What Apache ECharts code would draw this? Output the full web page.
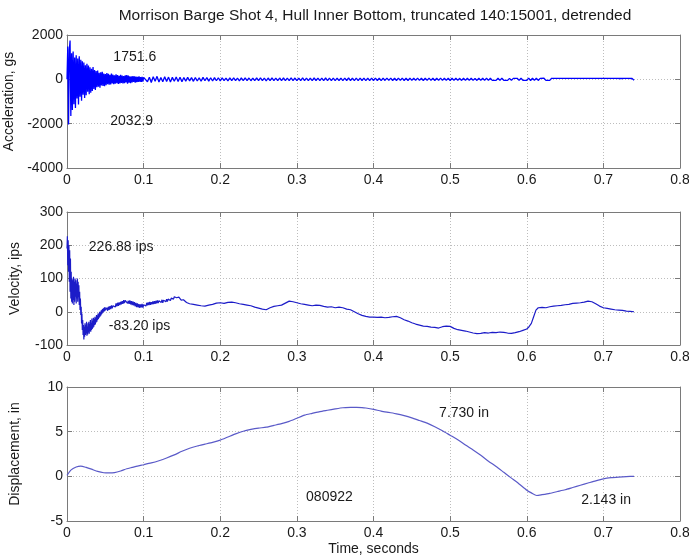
<!DOCTYPE html>
<html>
<head>
<meta charset="utf-8">
<script src="https://cdn.jsdelivr.net/npm/echarts@6/dist/echarts.min.js"></script>
<style>
  html, body { margin: 0; padding: 0; background: #fff; }
  #chart { width: 689px; height: 558px; }
</style>
</head>
<body>
<div id="chart"></div>
<script>
// ---- Acceleration (gs), sampled records ----
// first 0.1 s at 1 ms steps
const ACC_EARLY_T0 = 0;
const ACC_EARLY_DT = 0.001;
const accelEarly = [
  0, 1480, -2032.9, 1320, 1751.6, -1650, 1180, -1380, 1260, -1120,
  980, -1290, 1090, -860, 940, -1140, 1040, -780, 880, -960,
  820, -700, 760, -840, 640, -720, 700, -560, 620, -670,
  540, -600, 480, -520, 560, -440, 420, -480, 380, -360,
  400, -330, 300, -380, 320, -280, 340, -300, 260, -310,
  240, -260, 280, -220, 250, -240, 200, -230, 260, -190,
  210, -220, 180, -200, 230, -170, 190, -210, 160, -180,
  200, -160, 170, -190, 150, -170, 180, -140, 190, -200,
  170, -150, 140, -170, 130, -140, 150, -120, 130, -150,
  120, -130, 110, -120, 140, -110, 100, -120, 110, -100,
  90
];
// remainder of the record at 2.5 ms steps
const ACC_LATE_T0 = 0.1025;
const ACC_LATE_DT = 0.0025;
const accelLate = [
  130, -110, 95, -140, 120, -90, 135, -120, 85, -105, 115, -95, 100, -120, 90, -85, 105, -100, 95, -110,
  85, -80, 95, -70, 75, -90, 80, -75, 70, -85, 90, -65, 75, -80, 70, -75, 80, -65, 72, -70,
  68, -62, 58, -70, 64, -56, 70, -60, 55, -66, 62, -58, 66, -54, 60, -64, 56, -60, 66, -58,
  62, -58, 54, -66, 60, -54, 65, -58, 56, -62, 60, -54, 65, -60, 54, -58, 62, -56, 60, -62,
  56, -60, 62, -54, 58, -62, 54, -60, 60, -52, 58, -56, 54, -60, 62, -54, 56, -60, 54, -57,
  58, -54, 52, -60, 56, -52, 60, -54, 54, -58, 52, -55, 57, -52, 54, -56, 51, -54, 56, -52,
  54, -52, 50, -56, 53, -51, 55, -49, 52, -54, 50, -52, 54, -50, 51, -53, 49, -51, 53, -49,
  51, -49, 53, -50, 48, -52, 50, -48, 52, -49, 47, -51, 50, -48, 52, -47, 49, -50, 48, -51,
  49, -47, 51, -48, 46, -50, 49, -46, 50, -48, 47, -49, 46, -50, 48, -45, 49, -47, 46, -48,
  48, -46, 44, -49, 47, -45, 48, -44, 46, -47, 45, -48, 44, -46, 47, -45, 48, -44, 46, -47,
  54, -52, 50, -48, 47, -50, 46, -44, 48, -46, 43, -45, 46, -42, 44, -45, 42, -44, 45, -43,
  43, -42, 44, -41, 42, -43, 40, -44, 42, -41, 43, -40, 42, -43, 41, -42, 40, -41, 42, -40,
  41, -40, 39, -41, 40, -38, 41, -39, 38, -40, 39, -38, 40, -37, 38, -37
];

// ---- Velocity (ips) ----
// impact phase, 0 to 0.05 s at 0.5 ms steps
const VEL_EARLY_T0 = 0;
const VEL_EARLY_DT = 0.0005;
const velEarly = [
  190, 226.88, 140, 215, 120, 200, 90, 185, 60, 160,
  40, 120, 30, 100, 25, 95, 35, 105, 20, 90,
  30, 100, 45, 95, 25, 85, 40, 100, 30, 90,
  45, 80, 20, 60, 5, 40, -10, 15, -35, -5,
  -55, -25, -70, -40, -83.20, -45, -75, -35, -70, -40,
  -65, -30, -72, -45, -68, -35, -62, -30, -66, -38,
  -58, -25, -60, -35, -55, -20, -52, -28, -48, -18,
  -45, -22, -40, -15, -38, -20, -32, -10, -30, -12,
  -25, -5, -22, -8, -18, 0, -15, -2, -12, 4,
  -8, 6, -5, 8, -2, 10, 0, 12, 2, 14,
  5
];
// recovery, 0.051 to 0.150 s at 1 ms steps
const VEL_MID_T0 = 0.051;
const VEL_MID_DT = 0.001;
const velMid = [
  0, 12, 3, 15, 6, 17, 8, 19, 10, 18,
  12, 22, 14, 25, 16, 27, 18, 28, 20, 30,
  22, 32, 24, 35, 26, 34, 28, 37, 25, 33,
  24, 34, 22, 32, 20, 31, 19, 29, 16, 27,
  14, 25, 13, 23, 12, 22, 13, 24, 12, 21,
  16, 26, 17, 27, 19, 28, 20, 30, 21, 29,
  22, 31, 23, 32, 24, 33, 25, 34, 26, 33,
  27, 35, 28, 36, 27, 35, 29, 37, 30, 38,
  31, 38, 32, 40, 34, 41, 36, 43, 38, 45,
  40, 47, 42, 46, 41, 44, 38, 41, 35, 37
];
// remainder: [time s, value]
const velLate = [
  [0.152, 36], [0.156, 28],
  [0.160, 24], [0.165, 22], [0.170, 20], [0.175, 18], [0.180, 17], [0.185, 20],
  [0.190, 22], [0.195, 26], [0.200, 27], [0.205, 25], [0.210, 28], [0.215, 29],
  [0.220, 27], [0.225, 24], [0.230, 22], [0.235, 20], [0.240, 18], [0.245, 14],
  [0.250, 11], [0.255, 8], [0.260, 6], [0.265, 12], [0.270, 16], [0.275, 18],
  [0.280, 20], [0.285, 26], [0.290, 32], [0.295, 30], [0.300, 27], [0.305, 24],
  [0.310, 22], [0.315, 20], [0.320, 18], [0.325, 20], [0.330, 19], [0.335, 16],
  [0.340, 14], [0.345, 15], [0.350, 12], [0.355, 14], [0.360, 12], [0.365, 8],
  [0.370, 6], [0.375, 0], [0.380, -6], [0.385, -11], [0.390, -14], [0.395, -16],
  [0.400, -16], [0.405, -17], [0.410, -16], [0.415, -18], [0.420, -17], [0.425, -15],
  [0.430, -14], [0.435, -18], [0.440, -24], [0.445, -28], [0.450, -33], [0.455, -37],
  [0.460, -40], [0.465, -43], [0.470, -44], [0.475, -46], [0.480, -47], [0.485, -49],
  [0.490, -45], [0.495, -43], [0.500, -44], [0.505, -50], [0.510, -54], [0.515, -56],
  [0.520, -58], [0.525, -61], [0.530, -64], [0.535, -66], [0.540, -65], [0.545, -63],
  [0.550, -64], [0.555, -62], [0.560, -63], [0.565, -61], [0.570, -62], [0.575, -64],
  [0.580, -65], [0.585, -63], [0.590, -60], [0.595, -56], [0.600, -52], [0.603, -45],
  [0.606, -35], [0.609, -15], [0.612, 5], [0.615, 12], [0.620, 13], [0.625, 12],
  [0.630, 15], [0.635, 17], [0.640, 18], [0.645, 19], [0.650, 21], [0.655, 22],
  [0.660, 25], [0.665, 26], [0.670, 27], [0.675, 29], [0.680, 32], [0.685, 30],
  [0.690, 24], [0.695, 17], [0.700, 12], [0.705, 10], [0.710, 8], [0.715, 6],
  [0.720, 5], [0.725, 4], [0.730, 2], [0.735, 1], [0.740, 0]
];

// ---- Displacement (in): [time s, value] ----
const displacement = [
  [0, 0.1], [0.005, 0.7], [0.012, 1.05], [0.018, 1.15], [0.025, 1.0], [0.032, 0.8],
  [0.04, 0.55], [0.048, 0.4], [0.055, 0.38], [0.062, 0.42], [0.07, 0.6], [0.078, 0.85],
  [0.085, 1.0], [0.092, 1.15], [0.1, 1.3], [0.11, 1.5], [0.12, 1.75], [0.13, 2.05],
  [0.14, 2.4], [0.15, 2.8], [0.16, 3.15], [0.17, 3.4], [0.18, 3.6], [0.19, 3.8],
  [0.2, 4.05], [0.21, 4.4], [0.22, 4.75], [0.23, 5.05], [0.24, 5.25], [0.25, 5.4],
  [0.26, 5.5], [0.27, 5.7], [0.28, 5.9], [0.29, 6.15], [0.3, 6.5], [0.31, 6.85],
  [0.32, 7.05], [0.33, 7.25], [0.34, 7.4], [0.35, 7.55], [0.36, 7.68], [0.37, 7.72],
  [0.378, 7.730], [0.385, 7.7], [0.39, 7.65], [0.4, 7.5], [0.41, 7.3], [0.42, 7.15],
  [0.43, 7.0], [0.44, 6.8], [0.45, 6.55], [0.46, 6.25], [0.47, 5.95], [0.48, 5.55],
  [0.49, 5.1], [0.5, 4.6], [0.51, 4.1], [0.52, 3.5], [0.53, 2.95], [0.54, 2.35],
  [0.55, 1.7], [0.56, 1.1], [0.57, 0.45], [0.58, -0.2], [0.59, -0.85], [0.6, -1.55],
  [0.606, -1.85], [0.613, -2.143], [0.62, -2.05], [0.63, -1.9], [0.64, -1.7], [0.65, -1.5],
  [0.66, -1.25], [0.67, -1.0], [0.68, -0.75], [0.69, -0.5], [0.7, -0.28], [0.71, -0.15],
  [0.72, -0.08], [0.73, -0.03], [0.74, 0]
];

// ---- Axis ranges [min, max, interval] ----
const timeRange = [0, 0.8, 0.1];
const accelRange = [-4000, 2000, 2000];
const velRange = [-100, 300, 100];
const dispRange = [-5, 10, 5];

// ---- Text notes placed in data coordinates: [time, value, text] ----
const accelNotes = [[0.0605, 1000, '1751.6'], [0.0565, -1880, '2032.9']];
const velNotes = [[0.0285, 195, '226.88 ips'], [0.0545, -43, '-83.20 ips']];
const dispNotes = [[0.4856, 7.1, '7.730 in'], [0.312, -2.35, '080922'], [0.671, -2.67, '2.143 in']];

const FONT = "'Liberation Sans', Arial, sans-serif";
const AXIS_GRAY = '#7a7a7a';
const TXT = '#1a1a1a';

function sampled(t0, dt, values) {
  return values.map((v, i) => [t0 + i * dt, v]);
}

const accelData = sampled(ACC_EARLY_T0, ACC_EARLY_DT, accelEarly)
  .concat(sampled(ACC_LATE_T0, ACC_LATE_DT, accelLate));
const velocityData = sampled(VEL_EARLY_T0, VEL_EARLY_DT, velEarly)
  .concat(sampled(VEL_MID_T0, VEL_MID_DT, velMid), velLate);

const grids = [
  { left: 67, right: 9, top: 35, height: 133, outerBoundsMode: 'none', containLabel: false },
  { left: 67, right: 9, top: 212, height: 133, outerBoundsMode: 'none', containLabel: false },
  { left: 67, right: 9, top: 387, height: 134, outerBoundsMode: 'none', containLabel: false }
];

function xAxes(gi, withName) {
  return [
    {
      type: 'value', gridIndex: gi, position: 'bottom',
      min: timeRange[0], max: timeRange[1], interval: timeRange[2],
      name: withName ? 'Time, seconds' : '',
      nameLocation: 'middle', nameGap: 21,
      nameTextStyle: { fontFamily: FONT, fontSize: 14, color: TXT },
      axisLine: { show: true, onZero: false, lineStyle: { color: AXIS_GRAY, width: 1 } },
      axisTick: { show: true, inside: true, length: 5, lineStyle: { color: AXIS_GRAY } },
      axisLabel: { fontFamily: FONT, fontSize: 14, color: TXT, margin: 5,
        formatter: v => String(Math.round(v * 10) / 10) },
      splitLine: { show: true, lineStyle: { color: '#bdbdbd', type: [1, 2], width: 1 } }
    },
    {
      type: 'value', gridIndex: gi, position: 'top',
      min: timeRange[0], max: timeRange[1], interval: timeRange[2],
      axisLine: { show: true, onZero: false, lineStyle: { color: AXIS_GRAY, width: 1 } },
      axisTick: { show: true, inside: true, length: 5, lineStyle: { color: AXIS_GRAY } },
      axisLabel: { show: false },
      splitLine: { show: false }
    }
  ];
}

function yAxes(gi, range, name) {
  return [
    {
      type: 'value', gridIndex: gi, position: 'left',
      min: range[0], max: range[1], interval: range[2],
      name: name, nameLocation: 'middle', nameGap: 45, nameRotate: 90,
      nameTextStyle: { fontFamily: FONT, fontSize: 14, color: TXT },
      axisLine: { show: true, onZero: false, lineStyle: { color: AXIS_GRAY, width: 1 } },
      axisTick: { show: true, inside: true, length: 5, lineStyle: { color: AXIS_GRAY } },
      axisLabel: { fontFamily: FONT, fontSize: 14, color: TXT, margin: 4,
        formatter: v => String(v) },
      splitLine: { show: true, lineStyle: { color: '#bdbdbd', type: [1, 2], width: 1 } }
    },
    {
      type: 'value', gridIndex: gi, position: 'right',
      min: range[0], max: range[1], interval: range[2],
      axisLine: { show: true, onZero: false, lineStyle: { color: AXIS_GRAY, width: 1 } },
      axisTick: { show: true, inside: true, length: 5, lineStyle: { color: AXIS_GRAY } },
      axisLabel: { show: false },
      splitLine: { show: false }
    }
  ];
}

function noteSeries(xi, yi, notes) {
  return {
    type: 'scatter', xAxisIndex: xi, yAxisIndex: yi,
    symbolSize: 0, silent: true, z: 5,
    itemStyle: { opacity: 1 },
    data: notes.map(n => ({ value: [n[0], n[1]], name: n[2] })),
    label: {
      show: true, position: 'right', distance: 0, opacity: 1,
      formatter: p => p.name,
      fontFamily: FONT, fontSize: 14, color: TXT
    }
  };
}

const chart = echarts.init(document.getElementById('chart'), null, { renderer: 'canvas' });
chart.setOption({
  animation: false,
  backgroundColor: '#fff',
  title: {
    text: 'Morrison Barge Shot 4, Hull Inner Bottom, truncated 140:15001, detrended',
    left: 370, top: 3, textAlign: 'center',
    textStyle: { fontFamily: FONT, fontSize: 15.5, fontWeight: 'normal', color: TXT }
  },
  grid: grids,
  xAxis: [].concat(xAxes(0, false), xAxes(1, false), xAxes(2, true)),
  yAxis: [].concat(
    yAxes(0, accelRange, 'Acceleration, gs'),
    yAxes(1, velRange, 'Velocity, ips'),
    yAxes(2, dispRange, 'Displacement, in')
  ),
  series: [
    {
      type: 'line', xAxisIndex: 0, yAxisIndex: 0, data: accelData,
      showSymbol: false, sampling: null, silent: true,
      lineStyle: { color: '#0000ff', width: 1.3 }
    },
    {
      type: 'line', xAxisIndex: 2, yAxisIndex: 2, data: velocityData,
      showSymbol: false, silent: true,
      lineStyle: { color: '#1c1cc8', width: 1.2 }
    },
    {
      type: 'line', xAxisIndex: 4, yAxisIndex: 4, data: displacement,
      showSymbol: false, silent: true, smooth: 0.2,
      lineStyle: { color: '#5a5ac8', width: 1.2 }
    },
    noteSeries(0, 0, accelNotes),
    noteSeries(2, 2, velNotes),
    noteSeries(4, 4, dispNotes)
  ]
});
</script>
</body>
</html>
